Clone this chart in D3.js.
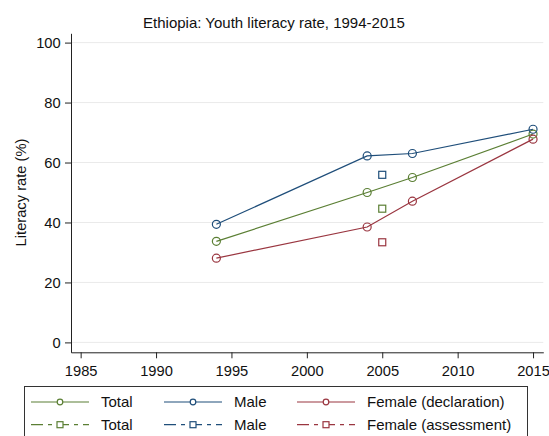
<!DOCTYPE html>
<html><head><meta charset="utf-8">
<script src="https://cdn.jsdelivr.net/npm/d3@7"></script>
<style>body{margin:0;background:#fff}svg{display:block;font-family:"Liberation Sans",Arial,sans-serif}</style>
</head><body><svg id="c" width="549" height="436"></svg>
<script>
const years = [1994, 2004, 2007, 2015];
const totalDecl = [33.7, 50.0, 55.0, 69.5];
const maleDecl = [39.4, 62.2, 63.0, 71.1];
const femaleDecl = [28.1, 38.5, 47.1, 67.8];
const assessYear = [2005];
const totalAssess = [44.6];
const maleAssess = [55.9];
const femaleAssess = [33.4];
const xTicks = [1985, 1990, 1995, 2000, 2005, 2010, 2015];
const yTicks = [0, 20, 40, 60, 80, 100];
const colors = {total: "#5b7f34", male: "#1f4e7a", female: "#9a3640"};

const svg = d3.select("#c");
const x = d3.scaleLinear().domain([1984.36, 2015.68]).range([71, 543.3]);
const y = d3.scaleLinear().domain([-3.3, 103.1]).range([352.3, 33.3]);

// gridlines
svg.append("g").selectAll("line").data(yTicks).join("line")
  .attr("x1", 71).attr("x2", 543.3).attr("y1", d => y(d)).attr("y2", d => y(d))
  .attr("stroke", "#eaeaea").attr("stroke-width", 1);

// axes
const ya = svg.append("g").attr("transform", "translate(71,0)")
  .call(d3.axisLeft(y).tickValues(yTicks).tickSize(6).tickSizeOuter(0).tickPadding(4.3));
const xa = svg.append("g").attr("transform", "translate(0,352.3)")
  .call(d3.axisBottom(x).tickValues(xTicks).tickFormat(d3.format("d")).tickSize(6).tickSizeOuter(0).tickPadding(6.8));
[ya, xa].forEach(a => {
  a.selectAll("text").attr("font-size", 14.7).attr("fill", "#111").attr("font-family", "Liberation Sans, Arial, sans-serif");
  a.selectAll("line,path").attr("stroke", "#222");
});

// title and y label
svg.append("text").attr("x", 274).attr("y", 27.5).attr("text-anchor", "middle")
  .attr("font-size", 15).attr("fill", "#111").text("Ethiopia: Youth literacy rate, 1994-2015");
svg.append("text").attr("transform", "translate(25.5,192.5) rotate(-90)").attr("text-anchor", "middle")
  .attr("font-size", 14.7).attr("fill", "#111").text("Literacy rate (%)");

const line = d3.line().x(d => x(d[0])).y(d => y(d[1]));
const series = [
  {vals: totalDecl, c: colors.total},
  {vals: maleDecl, c: colors.male},
  {vals: femaleDecl, c: colors.female}
];
series.forEach(s => {
  const pts = years.map((yr, i) => [yr, s.vals[i]]);
  svg.append("path").datum(pts).attr("d", line).attr("fill", "none")
    .attr("stroke", s.c).attr("stroke-width", 1.2);
  svg.append("g").selectAll("circle").data(pts).join("circle")
    .attr("cx", d => x(d[0])).attr("cy", d => y(d[1])).attr("r", 4)
    .attr("fill", "none").attr("stroke", s.c).attr("stroke-width", 1.2);
});
const asq = [
  {vals: totalAssess, c: colors.total},
  {vals: maleAssess, c: colors.male},
  {vals: femaleAssess, c: colors.female}
];
asq.forEach(s => {
  const pts = assessYear.map((yr, i) => [yr, s.vals[i]]);
  svg.append("g").selectAll("rect").data(pts).join("rect")
    .attr("x", d => x(d[0]) - 3.5).attr("y", d => y(d[1]) - 3.5).attr("width", 7).attr("height", 7)
    .attr("fill", "none").attr("stroke", s.c).attr("stroke-width", 1.2);
});

// legend
svg.append("rect").attr("x", 24.5).attr("y", 386.5).attr("width", 503).attr("height", 60)
  .attr("fill", "#fff").attr("stroke", "#333").attr("stroke-width", 1);
const legItems = [
  {label: "Total", c: colors.total, kx: 31, tx: 101, row: 0, sq: false},
  {label: "Male", c: colors.male, kx: 164, tx: 234, row: 0, sq: false},
  {label: "Female (declaration)", c: colors.female, kx: 297, tx: 367, row: 0, sq: false},
  {label: "Total", c: colors.total, kx: 31, tx: 101, row: 1, sq: true},
  {label: "Male", c: colors.male, kx: 164, tx: 234, row: 1, sq: true},
  {label: "Female (assessment)", c: colors.female, kx: 297, tx: 367, row: 1, sq: true}
];
const rowY = [402, 424.7];
legItems.forEach(it => {
  const cy = rowY[it.row];
  const g = svg.append("g");
  if (!it.sq) {
    g.append("line").attr("x1", it.kx).attr("x2", it.kx + 58).attr("y1", cy).attr("y2", cy)
      .attr("stroke", it.c).attr("stroke-width", 1.2);
    g.append("circle").attr("cx", it.kx + 29).attr("cy", cy).attr("r", 2.8)
      .attr("fill", "#fff").attr("stroke", it.c).attr("stroke-width", 1.2);
  } else {
    g.append("line").attr("x1", it.kx).attr("x2", it.kx + 58).attr("y1", cy).attr("y2", cy)
      .attr("stroke", it.c).attr("stroke-width", 1.2).attr("stroke-dasharray", "12,5,4,5");
    g.append("rect").attr("x", it.kx + 29 - 3).attr("y", cy - 3).attr("width", 6).attr("height", 6)
      .attr("fill", "#fff").attr("stroke", it.c).attr("stroke-width", 1.2);
  }
  g.append("text").attr("x", it.tx).attr("y", cy + 5.3).attr("font-size", 15).attr("fill", "#111").text(it.label);
});
</script></body></html>
